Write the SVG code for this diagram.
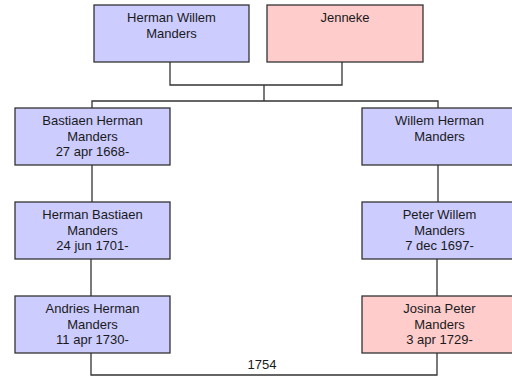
<svg xmlns="http://www.w3.org/2000/svg" width="512" height="376" viewBox="0 0 512 376">
<style>
.m{fill:#ccccff;stroke:#333;stroke-width:1.3}
.f{fill:#ffcccc;stroke:#333;stroke-width:1.3}
text{font-family:"Liberation Sans",Arial,sans-serif;font-size:13px;fill:#1a1a1a;text-anchor:middle}
.c{fill:none;stroke:#333;stroke-width:1.3}
</style>
<rect width="512" height="376" fill="#fff"/>
<g id="connectors">
<path class="c" d="M170 62V85H342V62"/>
<path class="c" d="M264 85V101M92 108V101H438V108"/>
<path class="c" d="M92 165V202M438 165V202"/>
<path class="c" d="M91 259V296M437 259V296"/>
<path class="c" d="M91 353V375H437V353"/>
<text x="262" y="369">1754</text>
</g>
<g id="n1"><rect class="m" x="94" y="5" width="155" height="57"/><text x="171.5" y="21.5">Herman Willem</text><text x="171.5" y="37.5">Manders</text></g>
<g id="n2"><rect class="f" x="267" y="5" width="156" height="57"/><text x="345" y="21.5">Jenneke</text></g>
<g id="n3"><rect class="m" x="15" y="108" width="155" height="57"/><text x="92.5" y="125">Bastiaen Herman</text><text x="92.5" y="140.5">Manders</text><text x="92.5" y="156">27 apr 1668-</text></g>
<g id="n4"><rect class="m" x="362" y="108" width="155" height="57"/><text x="439.5" y="125">Willem Herman</text><text x="439.5" y="140.5">Manders</text></g>
<g id="n5"><rect class="m" x="15" y="202" width="155" height="57"/><text x="92.5" y="219">Herman Bastiaen</text><text x="92.5" y="234.5">Manders</text><text x="92.5" y="250">24 jun 1701-</text></g>
<g id="n6"><rect class="m" x="362" y="202" width="155" height="57"/><text x="439.5" y="219">Peter Willem</text><text x="439.5" y="234.5">Manders</text><text x="439.5" y="250">7 dec 1697-</text></g>
<g id="n7"><rect class="m" x="15" y="296" width="155" height="57"/><text x="92.5" y="313">Andries Herman</text><text x="92.5" y="328.5">Manders</text><text x="92.5" y="344">11 apr 1730-</text></g>
<g id="n8"><rect class="f" x="362" y="296" width="155" height="57"/><text x="439.5" y="313">Josina Peter</text><text x="439.5" y="328.5">Manders</text><text x="439.5" y="344">3 apr 1729-</text></g>
</svg>
